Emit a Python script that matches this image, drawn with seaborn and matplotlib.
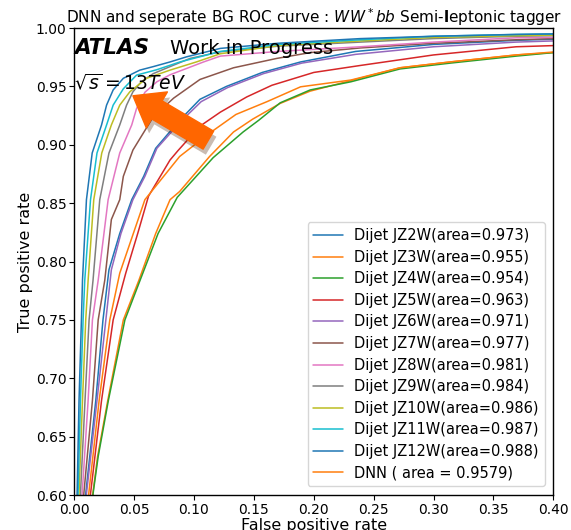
import matplotlib
matplotlib.use("Agg")
import matplotlib.pyplot as plt
import matplotlib.patheffects as pe
import numpy as np
import pandas as pd
import seaborn as sns

labels = ["Dijet JZ2W(area=0.973)", "Dijet JZ3W(area=0.955)", "Dijet JZ4W(area=0.954)",
          "Dijet JZ5W(area=0.963)", "Dijet JZ6W(area=0.971)", "Dijet JZ7W(area=0.977)",
          "Dijet JZ8W(area=0.981)", "Dijet JZ9W(area=0.984)", "Dijet JZ10W(area=0.986)",
          "Dijet JZ11W(area=0.987)", "Dijet JZ12W(area=0.988)", "DNN ( area = 0.9579)"]
colors = ["#1f77b4", "#ff7f0e", "#2ca02c", "#d62728", "#9467bd", "#8c564b",
          "#e377c2", "#7f7f7f", "#bcbd22", "#17becf", "#1f77b4", "#ff7f0e"]

jz2_fpr = [0, 0.0096, 0.018, 0.024, 0.029, 0.038, 0.048, 0.058, 0.068, 0.088, 0.105, 0.127, 0.157, 0.189, 0.235, 0.30, 0.369, 0.40, 1]
jz2_tpr = [0, 0.601, 0.681, 0.750, 0.793, 0.824, 0.853, 0.873, 0.897, 0.921, 0.939, 0.950, 0.962, 0.971, 0.980, 0.986, 0.9895, 0.9905, 1]

jz3_fpr = [0, 0.0155, 0.0195, 0.028, 0.041, 0.054, 0.068, 0.080, 0.088, 0.113, 0.133, 0.149, 0.172, 0.197, 0.231, 0.272, 0.314, 0.369, 0.40, 1]
jz3_tpr = [0, 0.601, 0.633, 0.681, 0.750, 0.784, 0.824, 0.853, 0.860, 0.890, 0.911, 0.922, 0.9355, 0.946, 0.955, 0.966, 0.971, 0.977, 0.979, 1]

jz4_fpr = [0, 0.0157, 0.020, 0.0285, 0.0423, 0.055, 0.070, 0.086, 0.116, 0.141, 0.154, 0.172, 0.197, 0.231, 0.272, 0.314, 0.369, 0.40, 1]
jz4_tpr = [0, 0.601, 0.633, 0.681, 0.750, 0.784, 0.824, 0.855, 0.889, 0.911, 0.921, 0.936, 0.947, 0.954, 0.965, 0.970, 0.976, 0.979, 1]

jz5_fpr = [0, 0.0136, 0.0228, 0.0325, 0.043, 0.053, 0.062, 0.080, 0.0866, 0.105, 0.122, 0.144, 0.165, 0.200, 0.239, 0.300, 0.369, 0.40, 1]
jz5_tpr = [0, 0.601, 0.681, 0.750, 0.790, 0.824, 0.856, 0.887, 0.895, 0.916, 0.928, 0.941, 0.951, 0.962, 0.968, 0.977, 0.984, 0.985, 1]

jz6_fpr = [0, 0.0102, 0.019, 0.0264, 0.031, 0.039, 0.049, 0.059, 0.069, 0.089, 0.106, 0.128, 0.158, 0.190, 0.235, 0.30, 0.369, 0.40, 1]
jz6_tpr = [0, 0.601, 0.681, 0.750, 0.793, 0.824, 0.853, 0.873, 0.897, 0.920, 0.937, 0.949, 0.961, 0.970, 0.9775, 0.984, 0.988, 0.989, 1]

jz7_fpr = [0, 0.008, 0.0152, 0.020, 0.0255, 0.031, 0.038, 0.041, 0.049, 0.066, 0.083, 0.105, 0.133, 0.169, 0.197, 0.239, 0.30, 0.369, 0.40, 1]
jz7_tpr = [0, 0.601, 0.681, 0.750, 0.784, 0.836, 0.853, 0.873, 0.8955, 0.924, 0.940, 0.956, 0.966, 0.974, 0.979, 0.983, 0.987, 0.990, 0.991, 1]

jz8_fpr = [0, 0.0066, 0.0116, 0.0152, 0.020, 0.0283, 0.038, 0.048, 0.052, 0.059, 0.069, 0.080, 0.094, 0.108, 0.122, 0.170, 0.239, 0.30, 0.369, 0.40, 1]
jz8_tpr = [0, 0.601, 0.681, 0.750, 0.784, 0.853, 0.893, 0.917, 0.931, 0.945, 0.954, 0.960, 0.9655, 0.971, 0.976, 0.980, 0.984, 0.988, 0.9917, 0.992, 1]

jz9_fpr = [0, 0.0052, 0.009, 0.0124, 0.0157, 0.0213, 0.029, 0.038, 0.0437, 0.049, 0.056, 0.066, 0.080, 0.0967, 0.122, 0.170, 0.239, 0.30, 0.369, 0.40, 1]
jz9_tpr = [0, 0.601, 0.681, 0.750, 0.784, 0.853, 0.893, 0.917, 0.934, 0.9454, 0.954, 0.961, 0.967, 0.974, 0.9797, 0.9845, 0.988, 0.991, 0.993, 0.9935, 1]

jz10_fpr = [0, 0.004, 0.0069, 0.0096, 0.0116, 0.0163, 0.023, 0.031, 0.038, 0.0464, 0.0604, 0.080, 0.102, 0.122, 0.170, 0.239, 0.30, 0.369, 0.40, 1]
jz10_tpr = [0, 0.601, 0.681, 0.750, 0.784, 0.853, 0.893, 0.917, 0.934, 0.9454, 0.957, 0.964, 0.971, 0.978, 0.985, 0.989, 0.992, 0.9935, 0.994, 1]

jz11_fpr = [0, 0.0032, 0.0052, 0.0074, 0.0088, 0.0136, 0.019, 0.027, 0.0325, 0.041, 0.052, 0.0688, 0.0883, 0.122, 0.170, 0.239, 0.30, 0.369, 0.40, 1]
jz11_tpr = [0, 0.601, 0.681, 0.750, 0.784, 0.853, 0.893, 0.917, 0.934, 0.948, 0.9597, 0.9643, 0.971, 0.980, 0.986, 0.990, 0.993, 0.9945, 0.995, 1]

jz12_fpr = [0, 0.0024, 0.004, 0.006, 0.0069, 0.0102, 0.015, 0.0228, 0.027, 0.0325, 0.041, 0.0548, 0.066, 0.080, 0.0939, 0.122, 0.170, 0.239, 0.30, 0.369, 0.40, 1]
jz12_tpr = [0, 0.601, 0.681, 0.750, 0.784, 0.853, 0.893, 0.917, 0.934, 0.947, 0.957, 0.964, 0.967, 0.971, 0.9754, 0.9826, 0.987, 0.991, 0.993, 0.9946, 0.995, 1]

dnn_fpr = [0, 0.0121, 0.0208, 0.0297, 0.038, 0.059, 0.088, 0.113, 0.135, 0.161, 0.189, 0.231, 0.272, 0.314, 0.369, 0.40, 1]
dnn_tpr = [0, 0.601, 0.681, 0.750, 0.790, 0.853, 0.890, 0.910, 0.926, 0.937, 0.9497, 0.9555, 0.966, 0.971, 0.977, 0.9795, 1]

series = [(jz2_fpr, jz2_tpr), (jz3_fpr, jz3_tpr), (jz4_fpr, jz4_tpr), (jz5_fpr, jz5_tpr),
          (jz6_fpr, jz6_tpr), (jz7_fpr, jz7_tpr), (jz8_fpr, jz8_tpr), (jz9_fpr, jz9_tpr),
          (jz10_fpr, jz10_tpr), (jz11_fpr, jz11_tpr), (jz12_fpr, jz12_tpr), (dnn_fpr, dnn_tpr)]

sns.set_theme(style="ticks")
plt.rcParams["font.family"] = ["DejaVu Sans"]
plt.rcParams["mathtext.fontset"] = "dejavusans"
plt.rcParams["xtick.labelsize"] = 10
plt.rcParams["ytick.labelsize"] = 10
plt.rcParams["text.color"] = "black"
plt.rcParams["axes.labelcolor"] = "black"
plt.rcParams["xtick.color"] = "black"
plt.rcParams["ytick.color"] = "black"

fig = plt.figure(figsize=(5.71, 5.30), dpi=100)
ax = fig.add_axes([0.130, 0.066, 0.839, 0.881])

for (fx, ty), lab, col in zip(series, labels, colors):
    df = pd.DataFrame({"fpr": fx, "tpr": ty})
    sns.lineplot(data=df, x="fpr", y="tpr", color=col, label=lab, lw=1.1,
                 sort=False, estimator=None, ax=ax)

ax.set_xlim(0.0, 0.40)
ax.set_ylim(0.60, 1.00)
ax.set_xticks(np.arange(0, 0.401, 0.05))
ax.set_yticks(np.arange(0.60, 1.001, 0.05))
ax.set_xticklabels([f"{v:.2f}" for v in np.arange(0, 0.401, 0.05)])
ax.set_yticklabels([f"{v:.2f}" for v in np.arange(0.60, 1.001, 0.05)])
for s in ax.spines.values():
    s.set_color("black")
    s.set_linewidth(1.0)
ax.tick_params(direction="out", length=3.5, width=0.8, colors="black", pad=2)

ax.set_xlabel("False positive rate", fontsize=11.5, labelpad=1)
ax.set_ylabel("True positive rate", fontsize=11.5, labelpad=2)
ax.set_title(r"DNN and seperate BG ROC curve : $WW^*bb$ Semi-$\mathbf{l}$eptonic tagger",
             fontsize=11, pad=4)

leg = ax.legend(loc="lower right", fontsize=10.5, frameon=True, borderaxespad=0.6,
                labelspacing=0.45, handlelength=2.0)
leg.get_frame().set_edgecolor("#cccccc")
for t in leg.get_texts():
    t.set_color("black")

ax.text(0.0, 0.978, "ATLAS", fontsize=15.5, fontweight="bold", fontstyle="italic",
        transform=ax.transData)
ax.text(0.080, 0.978, "Work in Progress", fontsize=14, transform=ax.transData)
ax.text(0.0, 0.948, r"$\sqrt{s}=13TeV$", fontsize=13.5, transform=ax.transData)

ann = ax.annotate("", xy=(0.049, 0.942), xytext=(0.112, 0.904),
                  arrowprops=dict(facecolor="#ff6600", edgecolor="#ff6600", width=15,
                                  headwidth=30, headlength=20, shrink=0.0))
ann.arrow_patch.set_path_effects([pe.SimplePatchShadow(offset=(2, -4), alpha=0.3),
                                  pe.Normal()])

fig.savefig("out.png", dpi=100)
